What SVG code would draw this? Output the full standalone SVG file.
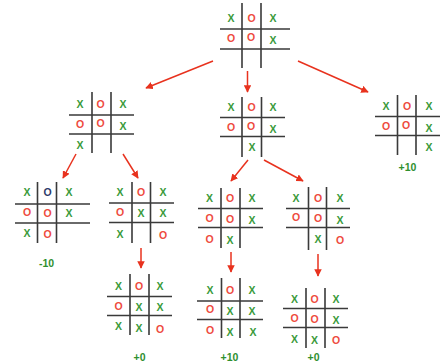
<svg xmlns="http://www.w3.org/2000/svg" width="440" height="364" viewBox="0 0 440 364">
<style>
.g{stroke:#3a3a3a;stroke-width:1.6;fill:none}
.x{fill:#3a9a3a;font-family:"Liberation Sans",Arial,sans-serif;font-size:10.5px;font-weight:bold;text-anchor:middle;dominant-baseline:central}
.o{fill:#ee4b3e;font-family:"Liberation Sans",Arial,sans-serif;font-size:10.5px;font-weight:bold;text-anchor:middle;dominant-baseline:central}
.n{fill:#2e3a6a}
.lb{fill:#2f8f2f;font-family:"Liberation Sans",Arial,sans-serif;font-size:10.5px;font-weight:bold;text-anchor:middle;dominant-baseline:central}
.a{stroke:#e8321e;stroke-width:1.5;fill:none;marker-end:url(#ah)}
</style>
<defs>
<marker id="ah" viewBox="0 0 10 10" refX="9" refY="5" markerWidth="5" markerHeight="5" orient="auto" markerUnits="strokeWidth">
<path d="M0,0 L10,5 L0,10 z" fill="#e8321e"/>
</marker>
</defs>
<rect width="440" height="364" fill="#fff"/>
<g id="connectors">
<line class="a" x1="213" y1="61" x2="146" y2="88"/>
<line class="a" x1="247.5" y1="71" x2="247.5" y2="92"/>
<line class="a" x1="298" y1="61" x2="368" y2="92"/>
<line class="a" x1="76" y1="154" x2="63" y2="178"/>
<line class="a" x1="123" y1="154" x2="138" y2="178"/>
<line class="a" x1="248" y1="160" x2="231" y2="181"/>
<line class="a" x1="264" y1="160" x2="303" y2="181"/>
<line class="a" x1="141" y1="248" x2="141" y2="268"/>
<line class="a" x1="231" y1="252" x2="231" y2="272"/>
<line class="a" x1="318" y1="254" x2="318" y2="276"/>
</g>
<g id="n0">
<path class="g" d="M242,3V68M261,3V68M220,29H290M220,49H290"/>
<text class="x" x="231" y="18">X</text><text class="o" x="251.5" y="18">O</text><text class="x" x="273" y="18">X</text>
<text class="o" x="231" y="38">O</text><text class="o" x="251" y="37">O</text><text class="x" x="273" y="40">X</text>
</g>
<g id="n1">
<path class="g" d="M92,92V153M111,92V153M69,115H134M69,134H134"/>
<text class="x" x="80" y="104">X</text><text class="o" x="100.5" y="104">O</text><text class="x" x="123" y="104">X</text>
<text class="o" x="80" y="124">O</text><text class="o" x="100.5" y="123">O</text><text class="x" x="123" y="126">X</text>
<text class="x" x="80" y="145">X</text>
</g>
<g id="n2">
<path class="g" d="M242,97V157M261.5,97V157M220,117.5H285M220,136.5H285"/>
<text class="x" x="231" y="107">X</text><text class="o" x="251.5" y="107">O</text><text class="x" x="273" y="107">X</text>
<text class="o" x="231" y="127">O</text><text class="o" x="251" y="126">O</text><text class="x" x="273" y="129">X</text>
<text class="x" x="252" y="147">X</text>
</g>
<g id="n3">
<path class="g" d="M397.5,95V155M416,95V155M375,116.5H440M375,135.5H440"/>
<text class="x" x="386" y="106">X</text><text class="o" x="407" y="106">O</text><text class="x" x="429" y="106">X</text>
<text class="o" x="386" y="126">O</text><text class="o" x="406" y="125">O</text><text class="x" x="429" y="128">X</text>
<text class="x" x="429" y="147">X</text>
<text class="lb" x="407.5" y="167">+10</text>
</g>
<g id="n4">
<path class="g" d="M37.5,182V243M56.5,182V243M15,204H90M15,223H90"/>
<text class="x" x="27" y="192">X</text><text class="o n" x="47.5" y="192">O</text><text class="x" x="69" y="192">X</text>
<text class="o" x="27" y="212">O</text><text class="o" x="47.5" y="213">O</text><text class="x" x="69" y="213">X</text>
<text class="x" x="27" y="233">X</text><text class="o" x="47.5" y="234">O</text>
<text class="lb" x="46.5" y="262.5">-10</text>
</g>
<g id="n5">
<path class="g" d="M132,182V243M150.5,182V243M109,203H174M109,222.5H174"/>
<text class="x" x="120" y="192">X</text><text class="o" x="141" y="192">O</text><text class="x" x="163" y="192">X</text>
<text class="o" x="120" y="212">O</text><text class="x" x="141" y="213">X</text><text class="x" x="163" y="213">X</text>
<text class="x" x="120" y="234">X</text><text class="o" x="163" y="235">O</text>
</g>
<g id="n6">
<path class="g" d="M221,188V248M240,188V248M198,208.5H263M198,227.5H263"/>
<text class="x" x="209.5" y="198">X</text><text class="o" x="230" y="198">O</text><text class="x" x="252" y="198">X</text>
<text class="o" x="209.5" y="218">O</text><text class="o" x="230" y="218.5">O</text><text class="x" x="252" y="219.5">X</text>
<text class="o" x="209.5" y="239">O</text><text class="x" x="230" y="240">X</text>
</g>
<g id="n7">
<path class="g" d="M308.5,187V250M326.5,187V250M286,208.5H350M286,227.5H350"/>
<text class="x" x="296" y="198">X</text><text class="o" x="318" y="198">O</text><text class="x" x="340" y="198">X</text>
<text class="o" x="296" y="217">O</text><text class="o" x="318" y="218">O</text><text class="x" x="340" y="219.5">X</text>
<text class="x" x="318" y="239">X</text><text class="o" x="340" y="240">O</text>
</g>
<g id="n8">
<path class="g" d="M130,274V335M149,274V335M107,296.5H172M107,315.5H172"/>
<text class="x" x="118.5" y="286">X</text><text class="o" x="139" y="286">O</text><text class="x" x="160" y="286">X</text>
<text class="o" x="118.5" y="306">O</text><text class="x" x="139" y="307">X</text><text class="x" x="160" y="307">X</text>
<text class="x" x="118.5" y="326">X</text><text class="x" x="139" y="327.5">X</text><text class="o" x="160" y="329">O</text>
<text class="lb" x="139.5" y="356.5">+0</text>
</g>
<g id="n9">
<path class="g" d="M221.5,278V338M240,278V338M197,301H263M197,319.5H263"/>
<text class="x" x="210" y="289.5">X</text><text class="o" x="230" y="289.5">O</text><text class="x" x="252" y="289.5">X</text>
<text class="o" x="210" y="309">O</text><text class="x" x="230" y="311">X</text><text class="x" x="252" y="311">X</text>
<text class="o" x="210" y="330">O</text><text class="x" x="230" y="331.5">X</text><text class="x" x="253" y="331.5">X</text>
<text class="lb" x="229.5" y="357">+10</text>
</g>
<g id="n10">
<path class="g" d="M306,288V348M325,288V348M283,308.5H348M283,327.5H348"/>
<text class="x" x="294.5" y="298.5">X</text><text class="o" x="314.5" y="298.5">O</text><text class="x" x="336" y="298.5">X</text>
<text class="o" x="294.5" y="318">O</text><text class="o" x="314.5" y="319">O</text><text class="x" x="336" y="320">X</text>
<text class="x" x="294.5" y="338.5">X</text><text class="x" x="314.5" y="340">X</text><text class="o" x="336" y="340">O</text>
<text class="lb" x="313.5" y="357">+0</text>
</g>
</svg>
